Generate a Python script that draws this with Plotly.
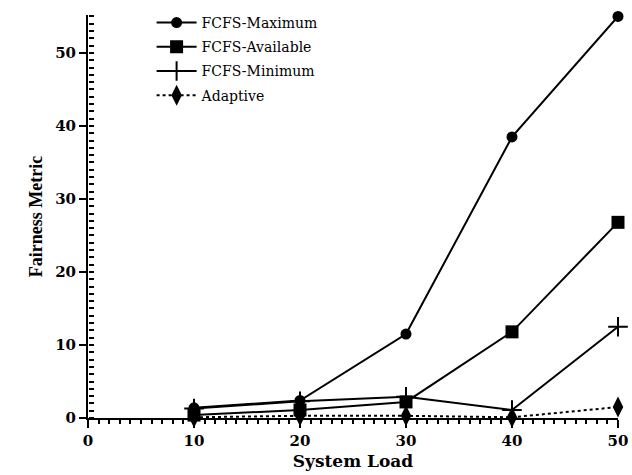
import plotly.graph_objects as go

# System load levels and fairness metric per scheduling policy
load = [10, 20, 30, 40, 50]
fcfs_maximum = [1.4, 2.4, 11.5, 38.5, 55.0]
fcfs_available = [0.4, 1.1, 2.2, 11.8, 26.8]
fcfs_minimum = [1.3, 2.3, 2.9, 1.1, 12.5]
adaptive = [0.1, 0.3, 0.3, 0.1, 1.5]

y_max = 55.2

series = [
    ("FCFS-Maximum", fcfs_maximum, dict(symbol="circle", size=11), "solid"),
    ("FCFS-Available", fcfs_available, dict(symbol="square", size=13), "solid"),
    ("FCFS-Minimum", fcfs_minimum,
     dict(symbol="cross-thin", size=14, line=dict(width=2, color="black")), "solid"),
    ("Adaptive", adaptive, dict(symbol="diamond-tall", size=15), "dot"),
]

fig = go.Figure()
for name, vals, marker, dash in series:
    fig.add_trace(go.Scatter(
        x=load, y=vals, name=name, mode="lines+markers",
        legendgroup=name,
        line=dict(color="black", width=2, dash=dash),
        marker=dict(color="black", **marker),
        cliponaxis=False,
    ))

# empty trace so the overlay axis with the inner unit ticks gets drawn
fig.add_trace(go.Scatter(x=[None], y=[None], yaxis="y2", mode="lines",
                         showlegend=False, hoverinfo="skip"))

tick_font = dict(family="DejaVu Serif", size=15, color="black", weight="bold")

fig.update_layout(
    width=632, height=475,
    margin=dict(l=88, r=14, t=15, b=57, autoexpand=False),
    paper_bgcolor="white", plot_bgcolor="white",
    showlegend=True,
    legend=dict(
        x=0.12, y=1.02, xanchor="left", yanchor="top",
        bgcolor="rgba(0,0,0,0)", borderwidth=0,
        font=dict(family="DejaVu Serif", size=14, color="black"),
        tracegroupgap=3, itemwidth=40,
    ),
    xaxis=dict(
        range=[0, 50], tickmode="linear", tick0=0, dtick=10,
        automargin=False, ticklabeloverflow="allow",
        showgrid=False, zeroline=False,
        showline=True, linecolor="black", linewidth=2,
        ticks="outside", ticklen=8, tickwidth=2, tickcolor="black",
        minor=dict(tickmode="linear", tick0=0, dtick=1, ticks="outside",
                   ticklen=4, tickwidth=2, tickcolor="black", showgrid=False),
        tickfont=tick_font,
        title=dict(text="System Load", standoff=6,
                   font=dict(family="DejaVu Serif", size=17, color="black", weight="bold")),
    ),
    yaxis=dict(
        range=[0, y_max], tickmode="linear", tick0=0, dtick=10,
        automargin=False,
        showgrid=False, zeroline=False,
        showline=True, linecolor="black", linewidth=2,
        ticks="outside", ticklen=7, tickwidth=2, tickcolor="black",
        tickfont=tick_font,
        title=dict(text="Fairness Metric", standoff=8,
                   font=dict(family="Liberation Serif", size=18, color="black", weight="bold")),
    ),
    # right-facing axis pinned to the left edge: unit ticks pointing into the plot
    yaxis2=dict(
        overlaying="y", anchor="free", position=0, side="right",
        range=[0, y_max], tickmode="linear", tick0=0, dtick=1,
        automargin=False,
        showgrid=False, zeroline=False, showline=False,
        ticks="outside", ticklen=5, tickwidth=2, tickcolor="black",
        showticklabels=False,
    ),
)

fig.write_html("out.html")
